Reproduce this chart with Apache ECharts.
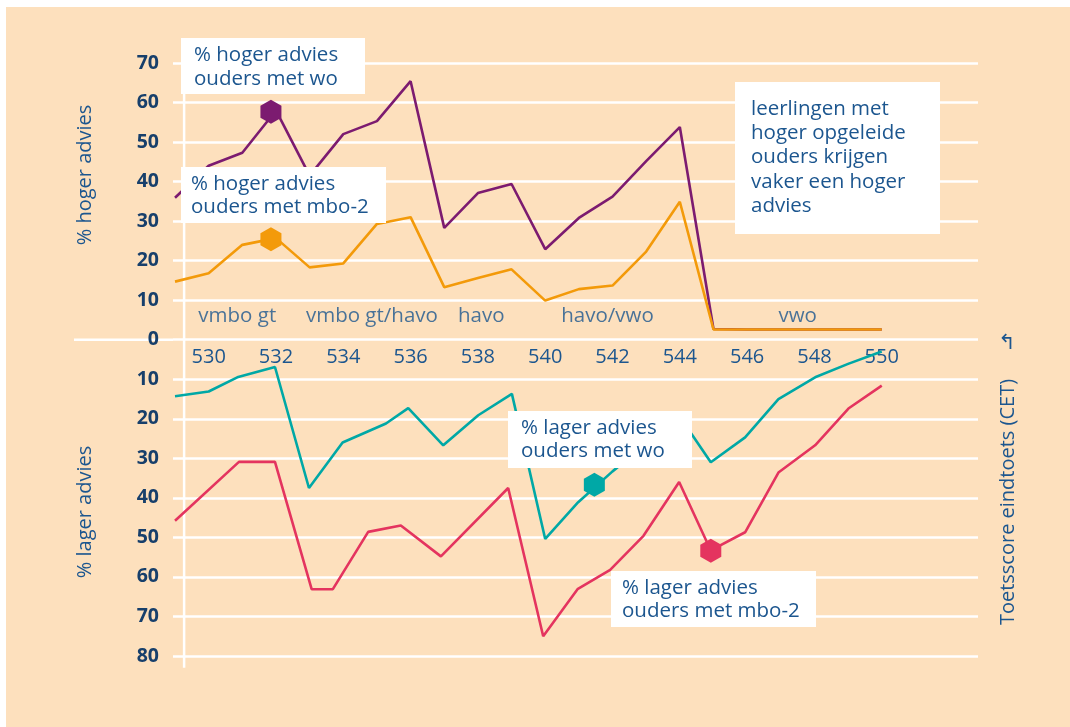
<!DOCTYPE html>
<html>
<head>
<meta charset="utf-8">
<script src="https://cdn.jsdelivr.net/npm/echarts@6/dist/echarts.min.js"></script>
<style>
  html, body { margin: 0; padding: 0; background: #fff; }
  #bg { position: absolute; left: 6px; top: 7px; width: 1064px; height: 720px; background: #fde0bd; }
  #chart { position: absolute; left: 0; top: 0; width: 1070px; height: 727px; }
</style>
</head>
<body>
<div id="bg"></div>
<div id="chart"></div>
<script>
// toetsscores (x) en percentages
const scores = [529, 530, 531, 532, 533, 534, 535, 536, 537, 538, 539, 540, 541, 542, 543, 544, 545, 546, 547, 548, 549, 550]
const hogerWo = [35.9, 44.0, 47.3, 58.0, 41.5, 52.0, 55.3, 65.4, 28.3, 37.1, 39.4, 22.9, 30.8, 36.2, 45.2, 53.8, 2.7, 2.6, 2.6, 2.6, 2.6, 2.6]
const hogerMbo = [14.7, 16.8, 24.0, 25.7, 18.3, 19.3, 29.3, 31.0, 13.3, 15.6, 17.8, 9.9, 12.8, 13.7, 22.3, 34.9, 2.6, 2.6, 2.6, 2.6, 2.6, 2.6]
const lagerWoX = [529, 530, 530.85, 531.97, 532.98, 533.98, 535.27, 535.93, 536.97, 538.01, 539.01, 540, 540.98, 542, 543, 544, 544.92, 545.94, 546.93, 548.02, 549, 550]
const lagerWo = [14.3, 13.1, 9.5, 6.9, 37.5, 26.0, 21.2, 17.3, 26.7, 19.1, 13.7, 50.4, 41.1, 33.3, 26.4, 19.5, 31.0, 24.7, 15.0, 9.5, 6.1, 3.0]
const lagerMboX = [529, 530.9, 531.97, 533.06, 533.69, 534.74, 535.71, 536.9, 538.9, 539.94, 540.96, 541.93, 542.92, 543.98, 544.92, 545.94, 546.93, 548.02, 549.01, 550]
const lagerMbo = [45.8, 30.9, 30.9, 63.1, 63.1, 48.6, 47.0, 54.8, 37.5, 75.0, 63.1, 58.2, 49.6, 36.0, 53.3, 48.7, 33.6, 26.7, 17.4, 11.6]

const xTicks = [530, 532, 534, 536, 538, 540, 542, 544, 546, 548, 550]

const levelNames = ['vmbo gt', 'vmbo gt/havo', 'havo', 'havo/vwo', 'vwo']
const levelX = [530.85, 534.85, 538.1, 541.85, 547.5]
const levelY = [6, 6, 6, 6, 6]

// hexagon markers: hoger wo, hoger mbo-2, lager wo, lager mbo-2
const markerX = [531.85, 531.85, 541.46, 544.92]
const markerY = [57.7, 25.4, -36.7, -53.4]

const noteTexts = [
  '% hoger advies\nouders met wo',
  '% hoger advies\nouders met mbo-2',
  'leerlingen met\nhoger opgeleide\nouders krijgen\nvaker een hoger\nadvies',
  '% lager advies\nouders met wo',
  '% lager advies\nouders met mbo-2'
]

const PURPLE = '#7c1b70'
const ORANGE = '#f39a0a'
const TEAL = '#00a8a6'
const RED = '#e4345f'
const TEXT = '#1c568f'
const NAVY = '#173f6b'
const FONT = '"Open Sans", "Noto Sans", sans-serif'
const HEX = 'path://M0,-1 L0.866,-0.5 L0.866,0.5 L0,1 L-0.866,0.5 L-0.866,-0.5 Z'

const chart = echarts.init(document.getElementById('chart'))

function lineSeries(name, xs, ys, color, sign) {
  return {
    name: name,
    type: 'line',
    data: xs.map((x, i) => [x, sign * ys[i]]),
    symbol: 'none',
    lineStyle: { color: color, width: 2.6 },
    z: 3
  }
}

const markerColors = [PURPLE, ORANGE, TEAL, RED]

chart.setOption({
  animation: false,
  backgroundColor: 'transparent',
  textStyle: { fontFamily: FONT },
  grid: { left: 173, top: 63, width: 805, height: 593 },
  xAxis: {
    type: 'value',
    position: 'bottom',
    min: 528.94,
    max: 552.86,
    axisLine: { show: false },
    axisTick: { show: false },
    splitLine: { show: false },
    axisLabel: {
      customValues: xTicks,
      color: TEXT,
      fontSize: 20,
      fontFamily: FONT,
      margin: 8
    }
  },
  yAxis: {
    type: 'value',
    min: -80,
    max: 70,
    interval: 10,
    axisLine: { show: false },
    axisTick: { show: false },
    splitLine: { lineStyle: { color: '#fff', width: 2.5 } },
    axisLabel: {
      formatter: v => Math.abs(v),
      color: NAVY,
      fontWeight: 'bold',
      fontSize: 19.5,
      fontFamily: FONT,
      margin: 14
    }
  },
  series: [
    lineSeries('% hoger advies ouders met wo', scores, hogerWo, PURPLE, 1),
    lineSeries('% hoger advies ouders met mbo-2', scores, hogerMbo, ORANGE, 1),
    lineSeries('% lager advies ouders met wo', lagerWoX, lagerWo, TEAL, -1),
    lineSeries('% lager advies ouders met mbo-2', lagerMboX, lagerMbo, RED, -1),
    {
      type: 'scatter',
      symbol: HEX,
      symbolSize: [21, 24],
      itemStyle: { opacity: 1 },
      data: markerX.map((x, i) => ({ value: [x, markerY[i]], itemStyle: { color: markerColors[i], opacity: 1 } })),
      z: 4
    },
    {
      type: 'scatter',
      symbolSize: 1,
      itemStyle: { color: 'transparent' },
      data: levelNames.map((n, i) => ({ name: n, value: [levelX[i], levelY[i]] })),
      label: {
        show: true,
        position: 'inside',
        formatter: p => p.name,
        color: TEXT,
        fontSize: 20.5,
        fontFamily: FONT
      },
      z: 4
    }
  ]
})

// x-as op de nullijn, as-lijnen en annotaties
const y0 = chart.convertToPixel({ gridIndex: 0 }, [529, 0])[1]
const axisX = chart.convertToPixel({ gridIndex: 0 }, [529.27, 0])[0]
const gridLeft = chart.convertToPixel({ gridIndex: 0 }, [528.94, 0])[0]
const yTop = chart.convertToPixel({ gridIndex: 0 }, [529, 70])[1]
const yBot = chart.convertToPixel({ gridIndex: 0 }, [529, -83])[1]
const gridBottom = chart.convertToPixel({ gridIndex: 0 }, [529, -80])[1]

const boxes = [
  { x: 181, y: 38, w: 184, h: 56, tx: 194, ty: 43, lh: 24 },
  { x: 181, y: 167, w: 205, h: 56, tx: 191, ty: 172, lh: 23.5 },
  { x: 735, y: 82, w: 205, h: 152, tx: 751, ty: 97, lh: 24.2 },
  { x: 508, y: 411, w: 184, h: 57, tx: 521, ty: 416, lh: 23.4 },
  { x: 611, y: 571, w: 205, h: 56, tx: 622, ty: 576, lh: 23.4 }
]

const graphics = [
  {
    type: 'rect', z: 0, silent: true,
    shape: { x: 74, y: y0 - 1.25, width: gridLeft - 74, height: 2.5 },
    style: { fill: '#ffffff' }
  },
  {
    type: 'rect', z: 0, silent: true,
    shape: { x: axisX - 1.25, y: yTop, width: 2.5, height: yBot - yTop },
    style: { fill: '#ffffff' }
  },
  {
    type: 'text', x: 85, y: 175, rotation: Math.PI / 2,
    style: { text: '% hoger advies', fill: TEXT, font: '20px ' + FONT, align: 'center', verticalAlign: 'middle' }
  },
  {
    type: 'text', x: 85, y: 512, rotation: Math.PI / 2,
    style: { text: '% lager advies', fill: TEXT, font: '20px ' + FONT, align: 'center', verticalAlign: 'middle' }
  },
  {
    type: 'text', x: 1008, y: 502, rotation: Math.PI / 2,
    style: { text: 'Toetsscore eindtoets (CET)', fill: TEXT, font: '20px ' + FONT, align: 'center', verticalAlign: 'middle' }
  },
  {
    type: 'text', x: 1007, y: 344,
    style: { text: '↰', fill: TEXT, font: '21px "DejaVu Sans"', align: 'center', verticalAlign: 'middle' }
  }
]

boxes.forEach((b, i) => {
  graphics.push({
    type: 'rect', z: 10, silent: true,
    shape: { x: b.x, y: b.y, width: b.w, height: b.h },
    style: { fill: '#fff' }
  })
  graphics.push({
    type: 'text', z: 11, x: b.tx, y: b.ty,
    style: { text: noteTexts[i], fill: TEXT, font: '20.5px ' + FONT, lineHeight: b.lh, align: 'left', verticalAlign: 'top' }
  })
})

chart.setOption({
  xAxis: { offset: y0 - gridBottom },
  graphic: graphics
})
</script>
</body>
</html>
